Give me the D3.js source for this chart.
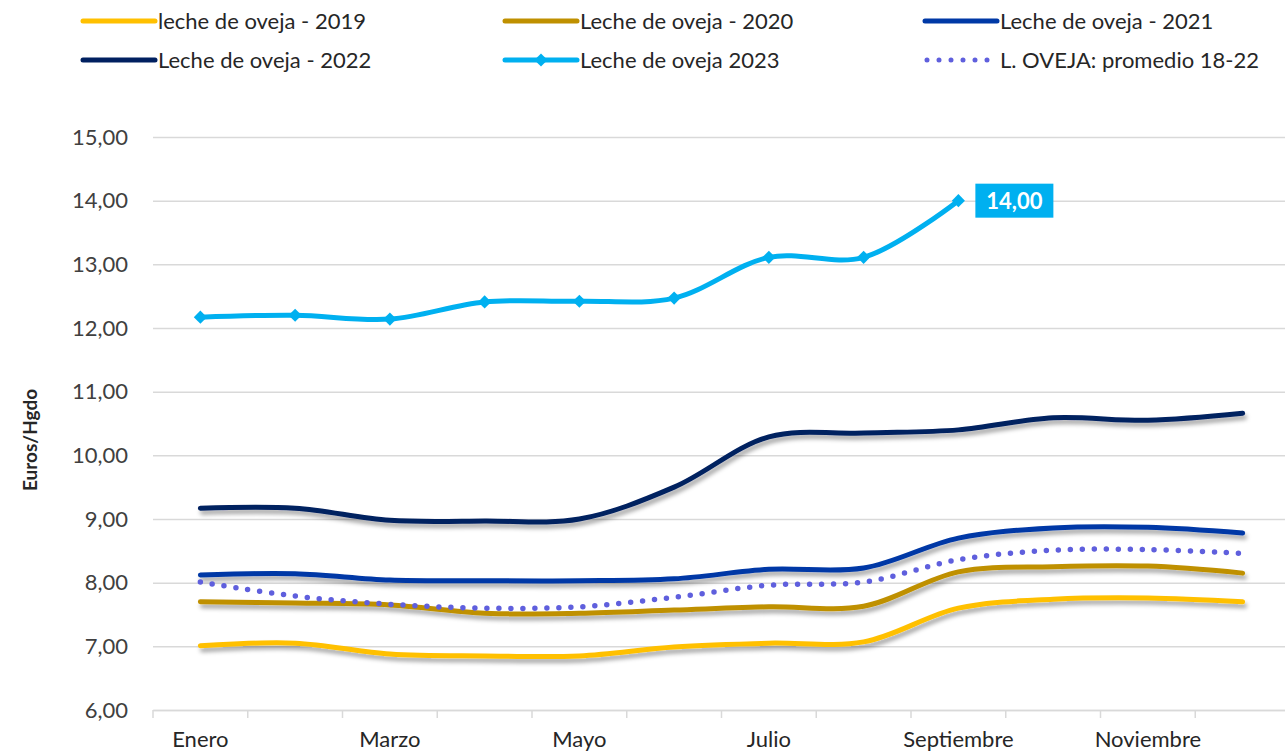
<!DOCTYPE html>
<html>
<head>
<meta charset="utf-8">
<script src="https://cdn.jsdelivr.net/npm/d3@7"></script>
<style>
  body { margin: 0; background: #fff; }
  text { font-family: Lato, "Open Sans", sans-serif; fill: #262626; }
</style>
</head>
<body>
<div id="chart-area"></div>
<script>
var months = ["Enero", "Febrero", "Marzo", "Abril", "Mayo", "Junio", "Julio", "Agosto", "Septiembre", "Octubre", "Noviembre", "Diciembre"];
var yTicks = [6, 7, 8, 9, 10, 11, 12, 13, 14, 15];

var v2019 = [7.01, 7.05, 6.88, 6.85, 6.85, 6.99, 7.05, 7.07, 7.60, 7.74, 7.76, 7.70];
var v2020 = [7.70, 7.68, 7.65, 7.52, 7.52, 7.57, 7.62, 7.63, 8.17, 8.25, 8.26, 8.15];
var v2021 = [8.12, 8.14, 8.04, 8.03, 8.03, 8.06, 8.21, 8.23, 8.70, 8.86, 8.87, 8.78];
var v2022 = [9.17, 9.17, 8.98, 8.97, 9.00, 9.50, 10.29, 10.35, 10.40, 10.59, 10.55, 10.66];
var v2023 = [12.17, 12.20, 12.14, 12.41, 12.42, 12.47, 13.11, 13.11, 14.00];
var vAvg  = [8.01, 7.79, 7.66, 7.60, 7.62, 7.77, 7.96, 8.01, 8.36, 8.51, 8.52, 8.46];

var series = [
  {name: "leche de oveja - 2019", values: v2019, color: "#FFC000", shadow: true},
  {name: "Leche de oveja - 2020", values: v2020, color: "#BF9000", shadow: true},
  {name: "Leche de oveja - 2021", values: v2021, color: "#0039A6", shadow: true},
  {name: "Leche de oveja - 2022", values: v2022, color: "#002060", shadow: true},
  {name: "Leche de oveja 2023", values: v2023, color: "#00B0F0", marker: true},
  {name: "L. OVEJA: promedio 18-22", values: vAvg, color: "#5F5FDD", dotted: true}
];

var width = 1285, height = 756;
var svg = d3.select("#chart-area").append("svg")
    .attr("width", width)
    .attr("height", height);

var defs = svg.append("defs");
var f = defs.append("filter").attr("id", "shadow")
    .attr("x", "-5%").attr("y", "-50%").attr("width", "110%").attr("height", "200%");
f.append("feDropShadow")
    .attr("dx", 2).attr("dy", 4).attr("stdDeviation", 2.2)
    .attr("flood-color", "#000").attr("flood-opacity", 0.35);

var x = d3.scaleBand()
    .domain(months)
    .range([153, 1290]);

var y = d3.scaleLinear()
    .domain([6, 15])
    .range([710, 137]);

var fmt = function(d) { return d3.format(".2f")(d).replace(".", ","); };

// gridlines + left axis
var leftAxis = d3.axisLeft(y)
    .tickValues(yTicks)
    .tickSize(-(1290 - 153))
    .tickPadding(25)
    .tickFormat(fmt);
var gy = svg.append("g")
    .attr("transform", "translate(153,0)")
    .call(leftAxis);
gy.select(".domain").remove();
gy.selectAll("line").attr("stroke", "#d9d9d9").attr("stroke-width", 1.5);
gy.selectAll("text").attr("font-size", "22px").style("fill", "#404040");

// bottom axis
var bottomAxis = d3.axisBottom(x)
    .tickSize(0)
    .tickPadding(21)
    .tickFormat(function(d, i) { return i % 2 === 0 ? d : ""; });
var gx = svg.append("g")
    .attr("transform", "translate(0,710)")
    .call(bottomAxis);
gx.select(".domain").attr("stroke", "#d9d9d9").attr("stroke-width", 1.5);
gx.selectAll("text").attr("font-size", "22px").style("fill", "#262626");

var bounds = months.map(function(m) { return x(m); }).concat([x.range()[1]]);
svg.append("g").selectAll("line").data(bounds).enter()
  .append("line")
    .attr("x1", function(d) { return d; })
    .attr("x2", function(d) { return d; })
    .attr("y1", 710).attr("y2", 718)
    .attr("stroke", "#d9d9d9").attr("stroke-width", 1.5);

// y axis label
svg.append("text")
    .attr("transform", "translate(37,440) rotate(-90)")
    .attr("text-anchor", "middle")
    .attr("font-size", "19px")
    .attr("font-weight", "bold")
    .text("Euros/Hgdo");

var line = d3.line()
    .x(function(d, i) { return x(months[i]) + x.bandwidth() / 2; })
    .y(function(d) { return y(d); })
    .curve(d3.curveCatmullRom.alpha(0.5));

var plot = svg.append("g");
series.forEach(function(s) {
  var p = plot.append("path")
      .datum(s.values)
      .attr("d", line)
      .attr("fill", "none")
      .attr("stroke", s.color)
      .attr("stroke-width", 5)
      .attr("stroke-linecap", "round");
  if (s.shadow) p.attr("filter", "url(#shadow)");
  if (s.dotted) p.attr("stroke-dasharray", "0 12").attr("stroke-width", 5.5);
  if (s.marker) {
    plot.selectAll(".dia").data(s.values).enter()
      .append("path")
        .attr("d", d3.symbol().type(d3.symbolDiamond2).size(110))
        .attr("transform", function(d, i) {
          return "translate(" + (x(months[i]) + x.bandwidth() / 2) + "," + y(d) + ")";
        })
        .attr("fill", s.color);
  }
});

// data label for last 2023 value
var lastI = v2023.length - 1;
var lx = x(months[lastI]) + x.bandwidth() / 2 + 17;
var ly = y(v2023[lastI]);
svg.append("rect")
    .attr("x", lx).attr("y", ly - 17)
    .attr("width", 78).attr("height", 34)
    .attr("fill", "#00B0F0");
svg.append("text")
    .attr("x", lx + 39).attr("y", ly + 8)
    .attr("text-anchor", "middle")
    .attr("font-size", "22px")
    .attr("font-weight", "bold")
    .style("fill", "#fff")
    .text(fmt(v2023[lastI]));

// legend
var legendPos = [[83, 21], [505, 21], [925, 21], [83, 60], [505, 60], [925, 60]];
series.forEach(function(s, i) {
  var lg = svg.append("g").attr("transform", "translate(" + legendPos[i][0] + "," + legendPos[i][1] + ")");
  var l = lg.append("line")
      .attr("x1", 0).attr("x2", 72)
      .attr("y1", 0).attr("y2", 0)
      .attr("stroke", s.color)
      .attr("stroke-width", 5)
      .attr("stroke-linecap", "round");
  if (s.dotted) l.attr("stroke-dasharray", "0 12").attr("x1", 2).attr("x2", 70);
  if (s.marker) {
    lg.append("path")
        .attr("d", d3.symbol().type(d3.symbolDiamond2).size(110))
        .attr("transform", "translate(36,0)")
        .attr("fill", s.color);
  }
  lg.append("text")
      .attr("x", 75).attr("y", 8)
      .attr("font-size", "22px")
      .text(s.name);
});
</script>
</body>
</html>
